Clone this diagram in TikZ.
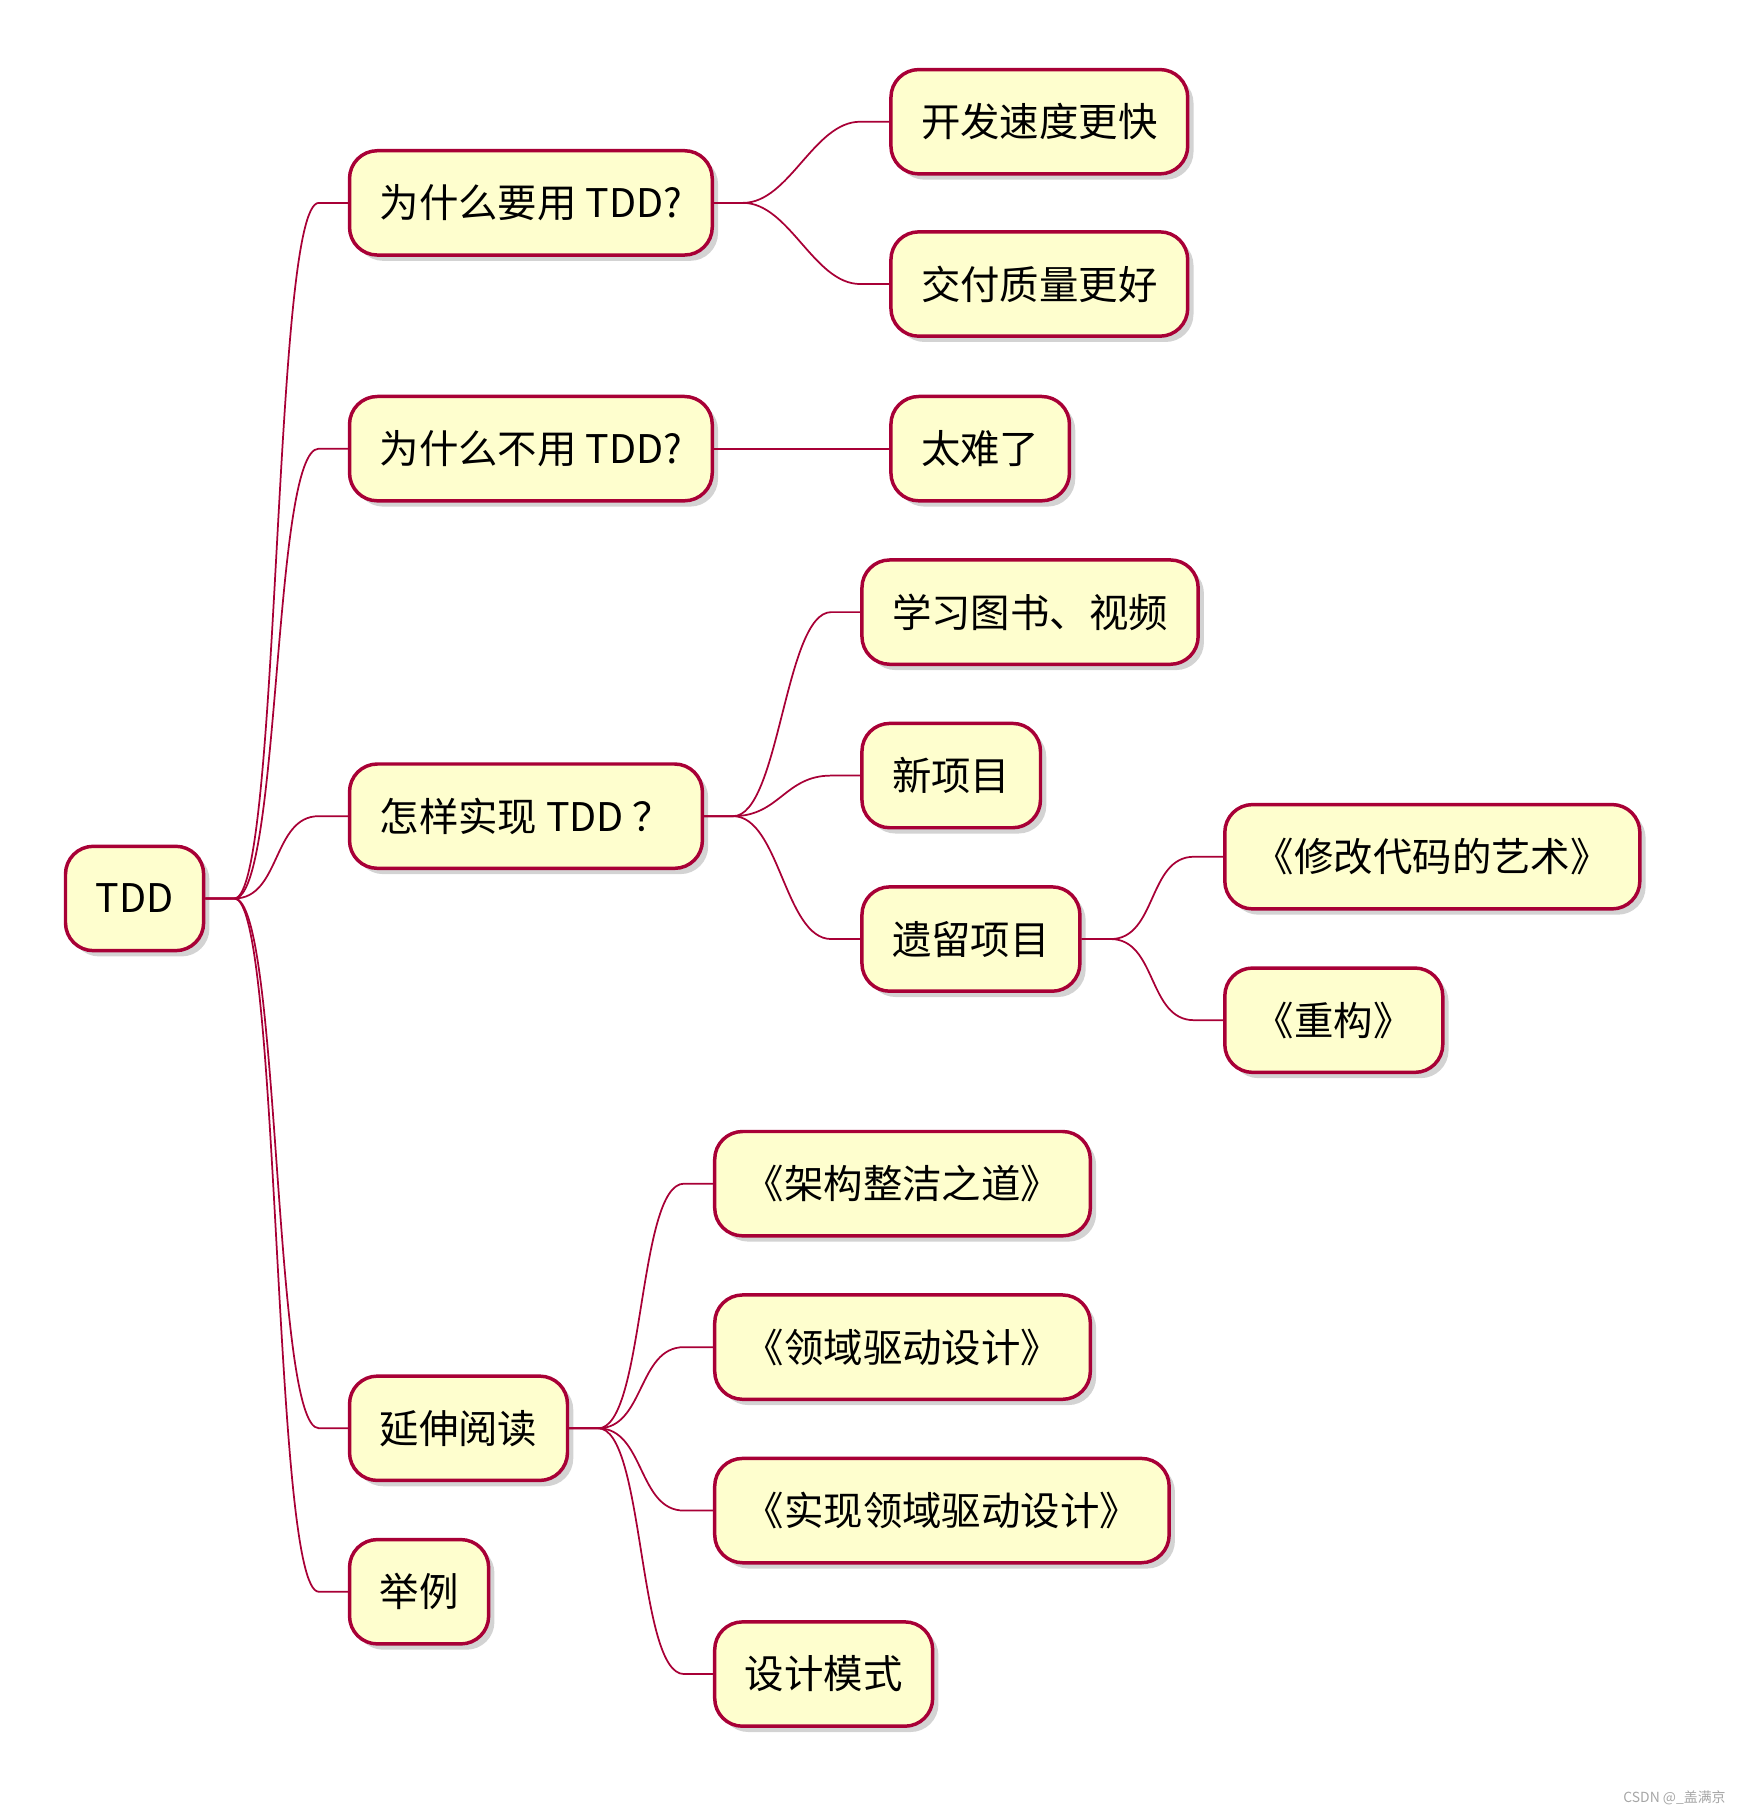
\documentclass[tikz,border=0pt]{standalone}
\usepackage{fontspec}
\setmainfont{Noto Sans CJK SC}
\usetikzlibrary{calc,shadows}
\definecolor{boxfill}{HTML}{FEFECE}
\definecolor{boxline}{HTML}{A80036}
\tikzset{
  topic/.style={draw=boxline, line width=3pt, fill=boxfill, rounded corners=24pt,
    minimum height=90pt, inner xsep=26pt, anchor=west, font=\fontsize{34}{38}\selectfont,
    drop shadow={opacity=0.35, shadow xshift=5pt, shadow yshift=-5pt}},
  branch/.style={draw=boxline, line width=1.5pt}
}
\newcommand{\joinup}[2]{\draw[branch] (#1.east) -- ++(25,0) .. controls +(40,0) and ($(#2.west)+(-65,0)$) .. ($(#2.west)+(-25,0)$) -- (#2.west);}
\begin{document}
\begin{tikzpicture}[x=1pt,y=-1pt]
\useasboundingbox (0,0) rectangle (1500,1563);
\node[topic] (root) at (55,775) {TDD};
\node[topic] (why) at (300,175) {为什么要用 TDD?};
\node[topic] (fast) at (767,105) {开发速度更快};
\node[topic] (qual) at (767,245) {交付质量更好};
\node[topic] (whynot) at (300,387) {为什么不用 TDD?};
\node[topic] (hard) at (767,387) {太难了};
\node[topic] (how) at (300,704) {怎样实现 TDD ？};
\node[topic] (learn) at (742,528) {学习图书、视频};
\node[topic] (new) at (742,669) {新项目};
\node[topic] (legacy) at (742,810) {遗留项目};
\node[topic] (feathers) at (1055,739) {《修改代码的艺术》};
\node[topic] (refac) at (1055,880) {《重构》};
\node[topic] (read) at (300,1232) {延伸阅读};
\node[topic] (clean) at (615,1021) {《架构整洁之道》};
\node[topic] (ddd) at (615,1162) {《领域驱动设计》};
\node[topic] (iddd) at (615,1303) {《实现领域驱动设计》};
\node[topic] (gof) at (615,1444) {设计模式};
\node[topic] (demo) at (300,1373) {举例};
% connectors
\foreach \a/\b in {root/why, root/whynot, root/how, root/read, root/demo,
  why/fast, why/qual, whynot/hard, how/learn, how/new, how/legacy,
  legacy/feathers, legacy/refac, read/clean, read/ddd, read/iddd, read/gof}
  {\joinup{\a}{\b}}
\node[anchor=south east, text=gray!70, font=\fontsize{12}{14}\selectfont] (mark) at (1492,1560) {CSDN @\_盖满京};
\end{tikzpicture}
\end{document}
